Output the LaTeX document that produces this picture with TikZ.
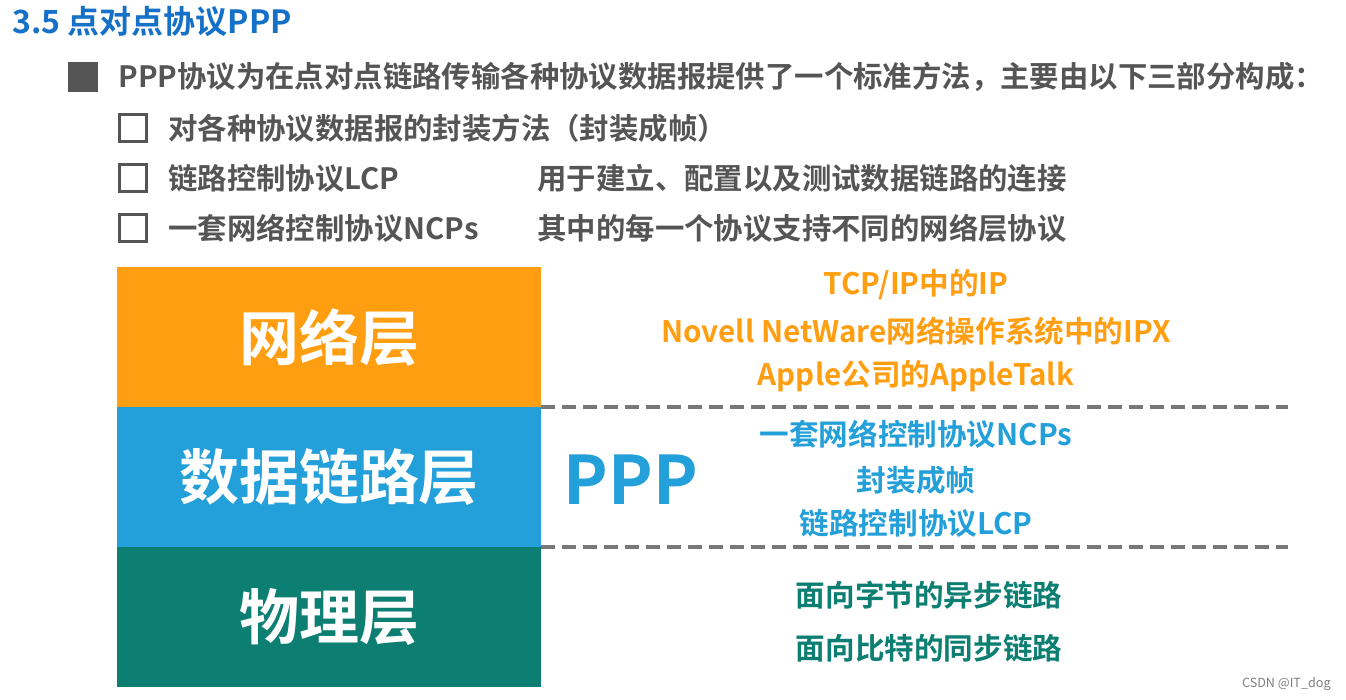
\documentclass[tikz,border=0pt]{standalone}
\usepackage{fontspec}
\setmainfont{Noto Sans CJK SC}[BoldFont={Noto Sans CJK SC Bold}]
\usetikzlibrary{positioning}

\definecolor{titleblue}{RGB}{21,112,200}
\definecolor{textgrey}{RGB}{85,85,85}
\definecolor{netorange}{RGB}{255,158,16}
\definecolor{linkblue}{RGB}{35,159,217}
\definecolor{phyteal}{RGB}{12,126,114}
\definecolor{dashgrey}{RGB}{120,120,120}

\begin{document}
\begin{tikzpicture}[x=0.5pt,y=-0.5pt,
	every node/.style={inner sep=0pt,font=\bfseries},
	body/.style={anchor=west,text=textgrey,font=\bfseries\fontsize{14.7}{17}\selectfont},
	tick/.style={draw=textgrey,line width=1.4pt,minimum size=13.5pt},
	layer/.style={minimum width=212pt,minimum height=70pt,text=white,
		font=\bfseries\fontsize{30}{34}\selectfont},
	proto/.style={font=\bfseries\fontsize{14.8}{17}\selectfont},
	sep/.style={dashgrey,line width=1.6pt,dash pattern=on 7pt off 3.5pt}]
	\useasboundingbox[fill=white] (0,0) rectangle (1346,700);
	
	\node[anchor=west,text=titleblue,font=\bfseries\fontsize{16}{19}\selectfont] (title) at (12,22) {3.5 点对点协议PPP};
	\node[fill=textgrey,minimum size=15pt] (bullet) at (83,77) {};
	\node[body] (intro) at (118,77) {PPP协议为在点对点链路传输各种协议数据报提供了一个标准方法，主要由以下三部分构成：};
	
	\foreach \n/\y in {1/128,2/178,3/228}
	\node[tick] (box\n) at (133,\y) {};
	\node[body] (frame) at (168,128) {对各种协议数据报的封装方法（封装成帧）};
	\node[body] (lcp) at (168,178) {链路控制协议LCP};
	\node[body] (ncp) at (168,228) {一套网络控制协议NCPs};
	\node[body] (lcpdesc) at (537,178) {用于建立、配置以及测试数据链路的连接};
	\node[body] (ncpdesc) at (537,228) {其中的每一个协议支持不同的网络层协议};
	
	% layers
	\node[layer,fill=netorange] (net) at (329,337.5) {网络层};
	\node[layer,fill=linkblue] (link) at (329,477) {数据链路层};
	\node[layer,fill=phyteal] (phy) at (329,617) {物理层};
	
	\path (541,407) coordinate (s1a) (1288,407) coordinate (s1b)
	(541,547) coordinate (s2a) (1288,547) coordinate (s2b);
	\draw[sep] (s1a)--(s1b);
	\draw[sep] (s2a)--(s2b);
	
	\node[text=linkblue,font=\bfseries\fontsize{33.5}{38}\selectfont] (ppp) at (631,480) {PPP};
	
	\node[proto,text=netorange] (ip) at (916,285) {TCP/IP中的IP};
	\node[proto,text=netorange] (ipx) at (916,331) {Novell NetWare网络操作系统中的IPX};
	\node[proto,text=netorange] (atalk) at (916,376) {Apple公司的AppleTalk};
	\node[proto,text=linkblue] (ncps) at (916,434) {一套网络控制协议NCPs};
	\node[proto,text=linkblue] (fr) at (916,480) {封装成帧};
	\node[proto,text=linkblue] (lcps) at (916,523) {链路控制协议LCP};
	\node[proto,text=phyteal] (async) at (929,595) {面向字节的异步链路};
	\node[proto,text=phyteal] (sync) at (929,648) {面向比特的同步链路};
	
	\node[anchor=east,text=gray,font=\fontsize{6.3}{7}\selectfont] (mark) at (1331,684) {CSDN @IT\_dog};
	
\end{tikzpicture}
\end{document}
